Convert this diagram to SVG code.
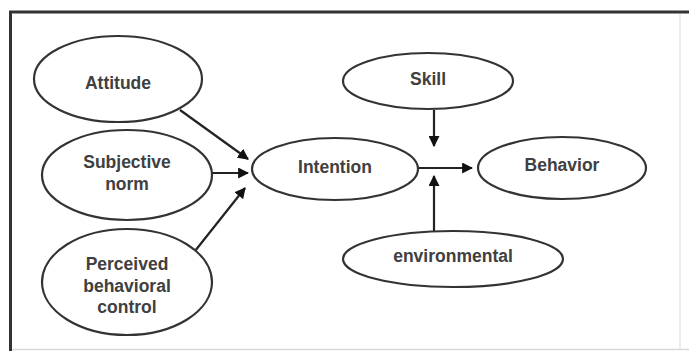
<svg xmlns="http://www.w3.org/2000/svg" width="689" height="351" viewBox="0 0 689 351">
<style>
.n ellipse{fill:#fff;stroke:#333;stroke-width:2.2}
.n text{font-family:"Liberation Sans",Arial,sans-serif;font-weight:bold;font-size:17.5px;fill:#404040;text-anchor:middle;dominant-baseline:central}
.c line{stroke:#222;stroke-width:2.2}
</style>
<defs>
<marker id="ah" viewBox="0 0 10 10" refX="9" refY="5" markerWidth="5" markerHeight="5" orient="auto" markerUnits="strokeWidth">
<path d="M0,0 L10,5 L0,10 z" fill="#111"/>
</marker>
</defs>
<rect x="0" y="0" width="689" height="351" fill="#fff"/>
<g id="frame">
<line x1="680" y1="12" x2="680" y2="350" stroke="#e4e4e4" stroke-width="1.5"/>
<line x1="10" y1="349.5" x2="689" y2="349.5" stroke="#d8d8d8" stroke-width="1.5"/>
<line x1="9" y1="12" x2="689" y2="12" stroke="#333" stroke-width="3"/>
<line x1="10.5" y1="11" x2="10.5" y2="351" stroke="#333" stroke-width="3"/>
</g>
<g class="c" id="connectors">
<line x1="180" y1="110" x2="248" y2="159" marker-end="url(#ah)"/>
<line x1="212" y1="173" x2="248" y2="173" marker-end="url(#ah)"/>
<line x1="195" y1="251" x2="245" y2="188" marker-end="url(#ah)"/>
<line x1="419" y1="168" x2="472" y2="168" marker-end="url(#ah)"/>
<line x1="434" y1="110" x2="434" y2="146" marker-end="url(#ah)"/>
<line x1="434" y1="231" x2="434" y2="176" marker-end="url(#ah)"/>
</g>
<g class="n" id="attitude"><ellipse cx="118" cy="79" rx="84" ry="43"/><text x="118" y="83">Attitude</text></g>
<g class="n" id="subjective"><ellipse cx="127" cy="175" rx="85" ry="45"/><text x="127" y="162">Subjective</text><text x="127" y="184">norm</text></g>
<g class="n" id="perceived"><ellipse cx="127" cy="282" rx="85" ry="53"/><text x="127" y="264">Perceived</text><text x="127" y="286">behavioral</text><text x="127" y="307">control</text></g>
<g class="n" id="intention"><ellipse cx="335" cy="169" rx="83" ry="31"/><text x="335" y="167">Intention</text></g>
<g class="n" id="skill"><ellipse cx="428" cy="81" rx="85" ry="28"/><text x="428" y="79">Skill</text></g>
<g class="n" id="behavior"><ellipse cx="562" cy="168" rx="84" ry="31"/><text x="562" y="165">Behavior</text></g>
<g class="n" id="environmental"><ellipse cx="453" cy="259" rx="110" ry="28"/><text x="453" y="256">environmental</text></g>
</svg>
